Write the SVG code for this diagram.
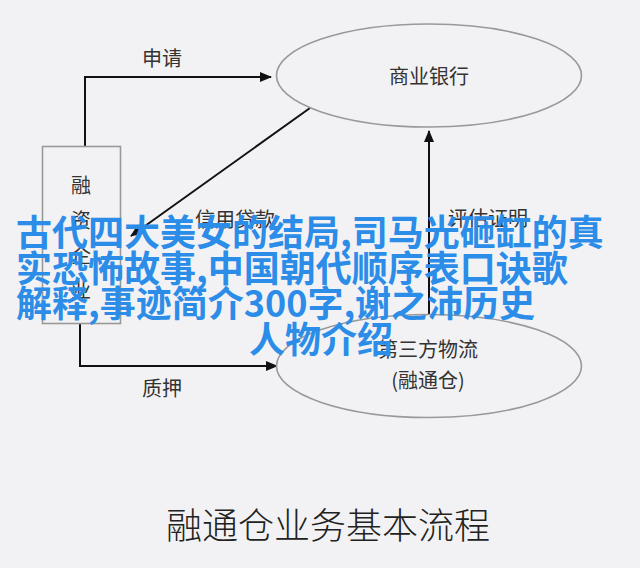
<svg xmlns="http://www.w3.org/2000/svg" width="640" height="568" viewBox="0 0 640 568">
<style>
.bg{fill:#f2f2f4}
.ell{fill:#f2f2f4;stroke:#999;stroke-width:1.6}
.box{fill:#f2f2f4;stroke:#999;stroke-width:1.6}
.lbl{font-family:"Noto Sans CJK SC","Noto Sans",sans-serif;fill:#333;font-size:20px}
.conn{fill:none;stroke:#111;stroke-width:2}
.title{font-family:"Noto Sans CJK SC","Noto Sans",sans-serif;fill:#222;font-size:36px;font-weight:300}
.ov{font-family:"Noto Sans CJK SC","Noto Sans",sans-serif;fill:#2b8de8;font-size:36px;font-weight:bold}
</style>
<defs>
<marker id="ah" markerUnits="userSpaceOnUse" markerWidth="12" markerHeight="10" refX="11" refY="5" orient="auto">
<path d="M0,0 L12,5 L0,10 Z" fill="#111"/>
</marker>
</defs>
<rect class="bg" x="0" y="0" width="640" height="568"/>
<g id="connectors">
<polyline class="conn" points="85,146 85,77 271,77" marker-end="url(#ah)"/>
<line class="conn" x1="310" y1="108" x2="131" y2="236" marker-end="url(#ah)"/>
<line class="conn" x1="429" y1="315" x2="429" y2="131" marker-end="url(#ah)"/>
<polyline class="conn" points="80,323 80,366 277,366" marker-end="url(#ah)"/>
<text class="lbl" x="162" y="66" text-anchor="middle">申请</text>
<text class="lbl" x="235" y="227" text-anchor="middle">信用贷款</text>
<text class="lbl" x="488" y="226" text-anchor="middle">评估证明</text>
<text class="lbl" x="162" y="396" text-anchor="middle">质押</text>
</g>
<g id="node-company">
<rect class="box" x="42.5" y="146.5" width="78" height="177"/>
<text class="lbl" x="81" y="193" text-anchor="middle" font-size="22">融</text>
<text class="lbl" x="81" y="228" text-anchor="middle" font-size="22">资</text>
<text class="lbl" x="81" y="263" text-anchor="middle" font-size="22">企</text>
<text class="lbl" x="81" y="298" text-anchor="middle" font-size="22">业</text>
</g>
<g id="node-bank">
<ellipse class="ell" cx="429" cy="75.5" rx="152.5" ry="51.5"/>
<text class="lbl" x="429" y="84" text-anchor="middle" font-size="21">商业银行</text>
</g>
<g id="node-logistics">
<ellipse class="ell" cx="429" cy="366" rx="152.5" ry="51.5"/>
<text class="lbl" x="428" y="357" text-anchor="middle">第三方物流</text>
<text class="lbl" x="428" y="388" text-anchor="middle">(融通仓)</text>
</g>
<text class="title" x="328" y="539" text-anchor="middle">融通仓业务基本流程</text>
<g id="overlay">
<text class="ov" x="16" y="246">古代四大美女的结局,司马光砸缸的真</text>
<text class="ov" x="16" y="281.5">实恐怖故事,中国朝代顺序表口诀歌</text>
<text class="ov" x="16" y="317">解释,事迹简介300字,谢之沛历史</text>
<text class="ov" x="321" y="352.5" text-anchor="middle">人物介绍</text>
</g>
</svg>
